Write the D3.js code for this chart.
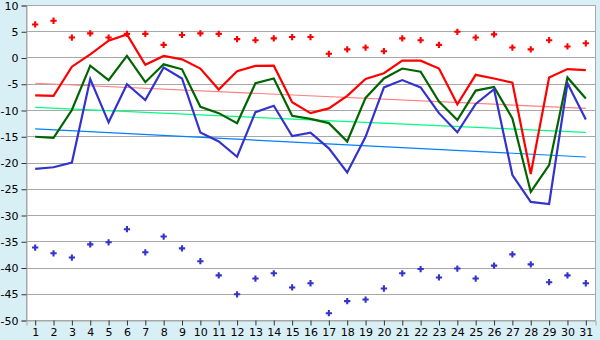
<!DOCTYPE html>
<html>
<head>
<meta charset="utf-8">
<script src="https://cdn.jsdelivr.net/npm/d3@7"></script>
<style>
  body { margin: 0; background: #d9eff6; }
  svg { display: block; }
  .tick text { font-family: "DejaVu Sans", Verdana, sans-serif; font-size: 11px; fill: #000; }
</style>
</head>
<body>
<svg id="chart" width="600" height="340"></svg>
<script>
// days of the month
var days = d3.range(1, 32);

// main series
var redLine = [-7.2, -7.3, -1.75, 0.6, 3.2, 4.4, -1.4, 0.3, -0.35, -2.1,
               -6.1, -2.6, -1.6, -1.55, -8.5, -10.6, -9.7, -7.3, -4.1, -3.0,
               -0.6, -0.6, -2.1, -8.9, -3.3, -4.0, -4.8, -22.2, -3.8, -2.2, -2.4];
var greenLine = [-15.1, -15.3, -10.0, -1.55, -4.3, 0.3, -4.7, -1.3, -2.25, -9.4,
                 -10.6, -12.5, -4.9, -4.0, -11.1, -11.7, -12.5, -16.0, -7.7, -4.0,
                 -2.1, -2.7, -8.4, -11.9, -6.3, -5.6, -11.6, -25.6, -20.5, -3.8, -7.8];
var blueLine = [-21.2, -20.9, -20.0, -4.1, -12.35, -5.1, -8.1, -1.9, -4.0, -14.3,
                -16.0, -18.9, -10.4, -9.2, -14.95, -14.3, -17.3, -21.9, -15.1, -5.7,
                -4.3, -5.7, -10.6, -14.25, -8.85, -6.05, -22.4, -27.5, -27.9, -4.9, -11.8];

// extremes, drawn as markers
var redMarks = [6.3, 7.0, 3.8, 4.6, 3.8, 4.5, 4.5, 2.4, 4.3, 4.6,
                4.5, 3.5, 3.3, 3.65, 3.9, 3.9, 0.7, 1.55, 1.9, 1.2,
                3.65, 3.3, 2.4, 4.9, 3.8, 4.4, 1.9, 1.55, 3.3, 2.1, 2.7];
var blueMarks = [-36.2, -37.3, -38.1, -35.6, -35.2, -32.7, -37.1, -34.1, -36.35, -38.8,
                 -41.5, -45.1, -42.1, -41.1, -43.8, -43.0, -48.7, -46.4, -46.1, -44.0,
                 -41.1, -40.3, -41.9, -40.2, -42.1, -39.65, -37.5, -39.4, -42.8, -41.5, -43.0];

// trend lines: value at day 1 and day 31
var trendDays = [1, 31];
var redTrend = [-4.9, -9.7];
var greenTrend = [-9.5, -14.25];
var blueTrend = [-13.6, -18.95];

var yTicks = d3.range(-50, 11, 5);

var svg = d3.select("#chart");
var plotLeft = 26, plotRight = 595, plotTop = 5, plotBottom = 320;

var x = d3.scaleBand().domain(days).range([plotLeft, plotRight]).padding(0);
var y = d3.scaleLinear().domain([-50, 10]).range([plotBottom, plotTop]);
var cx = function(d) { return x(d) + x.bandwidth() / 2; };

// plot area
svg.append("rect")
    .attr("x", plotLeft + 0.5).attr("y", plotTop + 0.5)
    .attr("width", plotRight - plotLeft).attr("height", plotBottom - plotTop)
    .attr("fill", "#fff")
    .attr("stroke", "#a8a8a8");

// grid
svg.append("g")
    .selectAll("line")
    .data(yTicks)
    .enter()
    .append("line")
    .attr("x1", plotLeft).attr("x2", plotRight)
    .attr("y1", function(d) { return Math.round(y(d)) + 0.5; })
    .attr("y2", function(d) { return Math.round(y(d)) + 0.5; })
    .attr("stroke", "#a8a8a8");

// axes
var yAxis = svg.append("g")
    .attr("transform", "translate(" + (plotLeft + 0.5) + ",0.5)")
    .call(d3.axisLeft(y).tickValues(yTicks).tickSize(5).tickPadding(3).tickFormat(d3.format("d")));
var xAxis = svg.append("g")
    .attr("transform", "translate(0.5," + (plotBottom + 0.5) + ")")
    .call(d3.axisBottom(x).tickSize(5).tickPadding(3));
[xAxis, yAxis].forEach(function(a) {
    a.select(".domain").attr("stroke", "#a8a8a8");
    a.selectAll(".tick line").attr("stroke", "#333");
    a.selectAll("text").text(function() { return this.textContent.replace("\u2212", "-"); });
});

// trends
function trend(vals, color) {
    svg.append("path")
        .datum(trendDays)
        .attr("fill", "none")
        .attr("stroke", color)
        .attr("stroke-width", 1.2)
        .attr("d", d3.line()
            .x(function(d) { return cx(d); })
            .y(function(d, i) { return y(vals[i]); }));
}
trend(redTrend, "#ff8080");
trend(greenTrend, "#00ff80");
trend(blueTrend, "#0080ff");

// series
function series(vals, color) {
    svg.append("path")
        .datum(days)
        .attr("fill", "none")
        .attr("stroke", color)
        .attr("stroke-width", 2.2)
        .attr("stroke-linejoin", "miter")
        .attr("d", d3.line()
            .x(function(d) { return cx(d); })
            .y(function(d, i) { return y(vals[i]); }));
}
series(redLine, "#ff0000");
series(greenLine, "#006400");
series(blueLine, "#3333cc");

// markers
var cross = d3.symbol().type(d3.symbolCross).size(22);
function marks(vals, color) {
    svg.append("g")
        .selectAll("path")
        .data(days)
        .enter()
        .append("path")
        .attr("d", cross)
        .attr("transform", function(d, i) { return "translate(" + cx(d) + "," + y(vals[i]) + ")"; })
        .attr("fill", color);
}
marks(redMarks, "#ff0000");
marks(blueMarks, "#3333cc");
</script>
</body>
</html>
